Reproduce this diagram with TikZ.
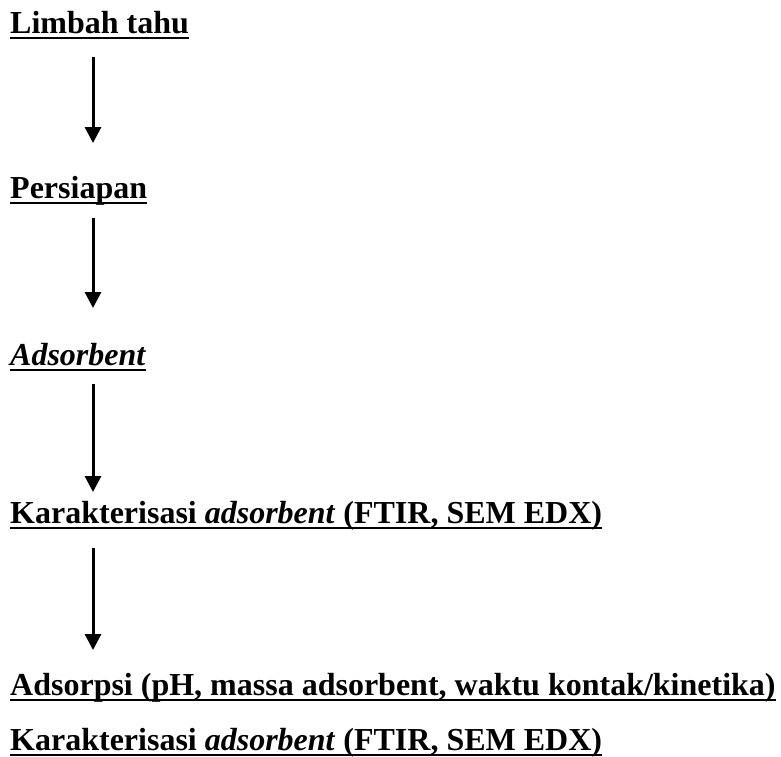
\documentclass[tikz,border=0pt]{standalone}
\usepackage{fontspec}
\setmainfont{Liberation Serif}
\usepackage{tikz}
\usetikzlibrary{arrows.meta,positioning}

\begin{document}
\begin{tikzpicture}[
  x=1pt, y=1pt,
  stage/.style={anchor=base west, inner sep=0pt, font=\fontsize{32}{36}\selectfont\bfseries},
  uline/.style={line width=2.6pt, color=black},
  arrow/.style={-{Triangle[width=16pt,length=16pt]}, line width=3pt, color=black}
]
\useasboundingbox (0,0) rectangle (781,-756);
\coordinate (ax) at (93,0);

\node[stage] (limbah) at (10,-33) {Limbah tahu};
\node[stage] (persiapan) at (10,-198) {Persiapan};
\node[stage] (adsorbent) at (10,-365) {\textit{Adsorbent}};
\node[stage] (karakter) at (10,-523) {Karakterisasi \textit{adsorbent} (FTIR, SEM EDX)};
\node[stage] (adsorpsi) at (10,-695) {Adsorpsi (pH, massa adsorbent, waktu kontak/kinetika)};
\node[stage] (karakter2) at (10,-750) {Karakterisasi \textit{adsorbent} (FTIR, SEM EDX)};

% underlines
\foreach \n in {limbah,persiapan,adsorbent,karakter,adsorpsi,karakter2}
  \draw[uline] ([yshift=-5pt]\n.base west) -- ([yshift=-5pt]\n.base east);

\draw[arrow, shorten <=24pt, shorten >=55pt] (limbah.base -| ax) -- (persiapan.base -| ax);
\draw[arrow, shorten <=20pt, shorten >=57pt] (persiapan.base -| ax) -- (adsorbent.base -| ax);
\draw[arrow, shorten <=19pt, shorten >=31pt] (adsorbent.base -| ax) -- (karakter.base -| ax);
\draw[arrow, shorten <=25pt, shorten >=45pt] (karakter.base -| ax) -- (adsorpsi.base -| ax);
\end{tikzpicture}
\end{document}
